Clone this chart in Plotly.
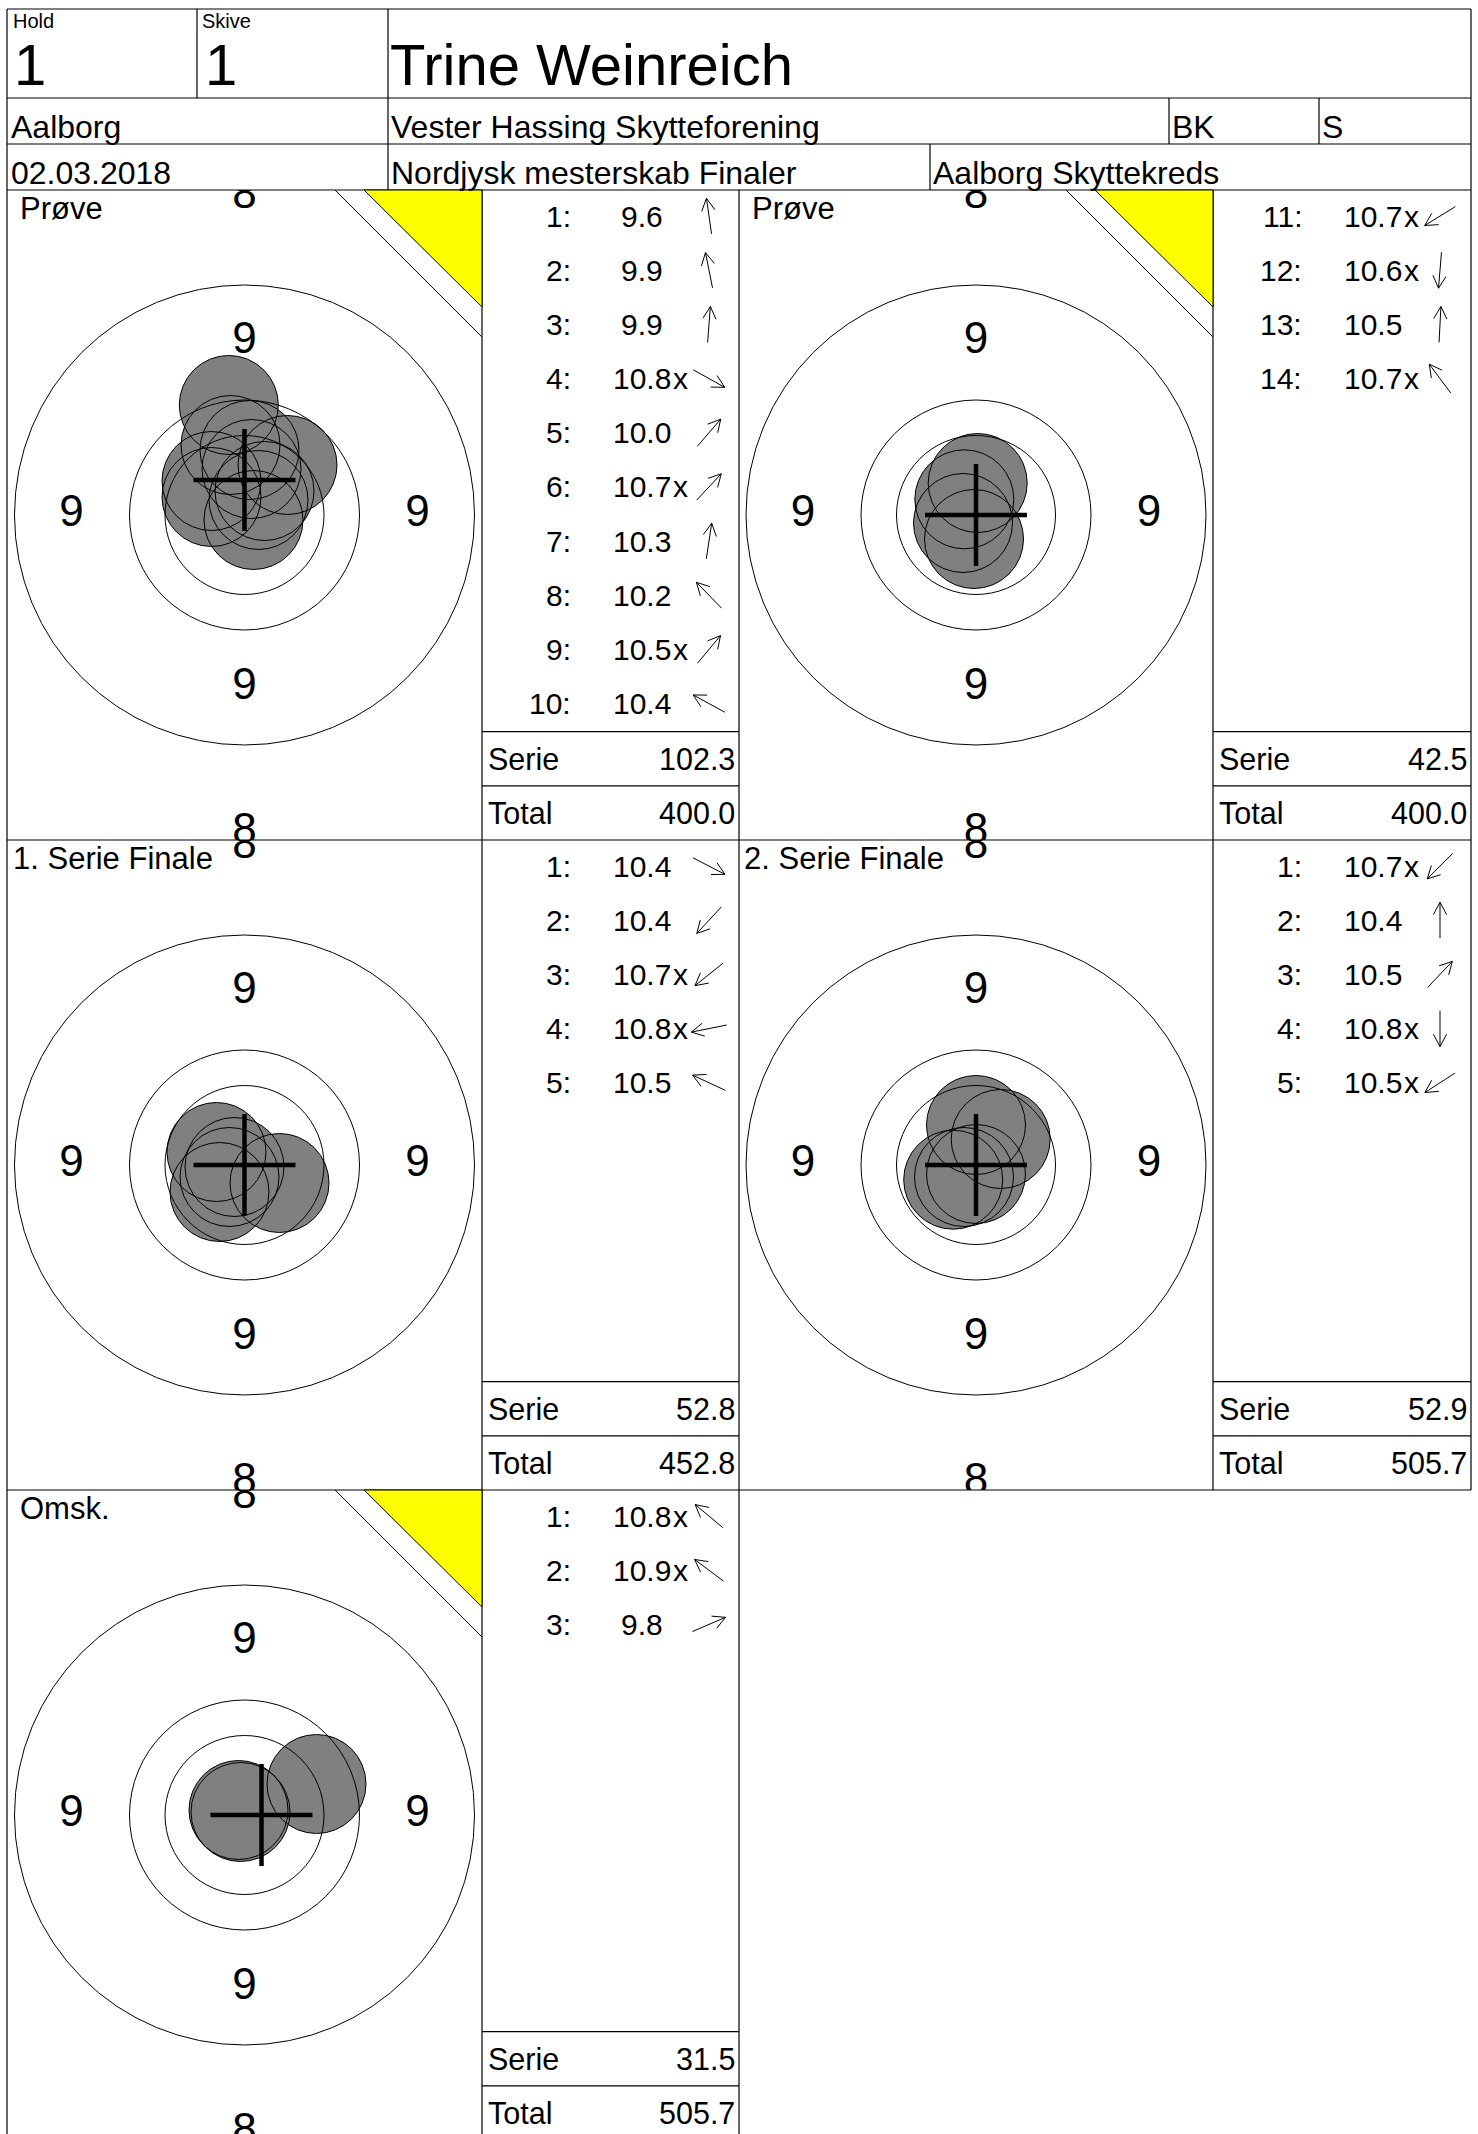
import math
import plotly.graph_objects as go

W, H = 1478, 2134
FONT = "Liberation Sans, Arial, Helvetica, sans-serif"

# ---------------- data ----------------
hold_label, skive_label = "Hold", "Skive"
hold_no = "1"
skive_no = "1"
shooter = "Trine Weinreich"
city = "Aalborg"
club = "Vester Hassing Skytteforening"
klasse = "BK"
gruppe = "S"
date = "02.03.2018"
competition = "Nordjysk mesterskab Finaler"
kreds = "Aalborg Skyttekreds"

panel_titles = ["Prøve", "Prøve", "1. Serie Finale", "2. Serie Finale", "Omsk."]
sighter_panel = [True, True, False, False, True]

p1_shot_no = [1, 2, 3, 4, 5, 6, 7, 8, 9, 10]
p1_scores = [9.6, 9.9, 9.9, 10.8, 10.0, 10.7, 10.3, 10.2, 10.5, 10.4]
p1_inner = [0, 0, 0, 1, 0, 1, 0, 0, 1, 0]
p1_x = [-15.7, -14, 5, 9, 43, 14, 7, -33, 20, -33]
p1_y = [110, 70, 65, -5, 50, 15, 46, 34, 24, 18]

p2_shot_no = [11, 12, 13, 14]
p2_scores = [10.7, 10.6, 10.5, 10.7]
p2_inner = [1, 1, 0, 1]
p2_x = [-13, -2, 1.7, -11.7]
p2_y = [-8, -24, 32, 15.7]

p3_shot_no = [1, 2, 3, 4, 5]
p3_scores = [10.4, 10.4, 10.7, 10.8, 10.5]
p3_inner = [0, 0, 1, 1, 0]
p3_x = [35, -25, -15, -10, -28]
p3_y = [-18, -27, -12, -2, 13]

p4_shot_no = [1, 2, 3, 4, 5]
p4_scores = [10.7, 10.4, 10.5, 10.8, 10.5]
p4_inner = [1, 0, 0, 1, 1]
p4_x = [-12, 0, 24.7, 0, -22.8]
p4_y = [-12, 40, 26, -9, -14.7]

p5_shot_no = [1, 2, 3]
p5_scores = [10.8, 10.9, 9.8]
p5_inner = [1, 1, 0]
p5_x = [-6, -4, 72]
p5_y = [5, 3, 31]

series_sum = [102.3, 42.5, 52.8, 52.9, 31.5]
running_total = [400.0, 400.0, 452.8, 505.7, 505.7]
group_x = [0, 0, 0, 0, 17]
group_y = [35, 0, 0, 0, 0]

ring_radii = [230, 115, 79.5]
ring9_label_r = 173
ring8_label_r = 318

# ---------------- geometry / style ----------------
SHOT_R = 49.5
CROSS_HALF = 51
panels = [(7, 190, 482, 840), (739, 190, 1213, 840), (7, 840, 482, 1490),
          (739, 840, 1213, 1490), (7, 1490, 482, 2140)]
lists = [(482, 190, 739, 840), (1213, 190, 1471, 840), (482, 840, 739, 1490),
         (1213, 840, 1471, 1490), (482, 1490, 739, 2140)]
title_dx = [11, 11, 4, 3, 11]
ROW_H = 650 / 12.0

shots = [
    (p1_shot_no, p1_scores, p1_inner, p1_x, p1_y),
    (p2_shot_no, p2_scores, p2_inner, p2_x, p2_y),
    (p3_shot_no, p3_scores, p3_inner, p3_x, p3_y),
    (p4_shot_no, p4_scores, p4_inner, p4_x, p4_y),
    (p5_shot_no, p5_scores, p5_inner, p5_x, p5_y),
]

fig = go.Figure()
layout = dict(width=W, height=H, margin=dict(l=0, r=0, t=0, b=0),
              paper_bgcolor="white", plot_bgcolor="rgba(0,0,0,0)", showlegend=False)
annotations = []
shapes = []

def hidden(ax):
    ax.update(visible=False, showgrid=False, zeroline=False, fixedrange=True)
    return ax

# page axis (pixel coordinates, y down)
layout["xaxis6"] = hidden(dict(domain=[0, 1], range=[0, W], anchor="y6"))
layout["yaxis6"] = hidden(dict(domain=[0, 1], range=[H, 0], anchor="x6"))

def ann(text, x, y, size, xanchor="left"):
    annotations.append(dict(text=text, x=x, y=y, xref="x6", yref="y6", xanchor=xanchor,
                            yanchor="middle", showarrow=False,
                            font=dict(size=size, family=FONT, color="black")))

def line(x0, y0, x1, y1, w=1.2):
    shapes.append(dict(type="line", x0=x0, y0=y0, x1=x1, y1=y1, xref="x6", yref="y6",
                       line=dict(color="black", width=w), layer="above"))

# ---- header ----
ann(hold_label, 11, 20.5, 20)
ann(skive_label, 200, 20.5, 20)
ann(hold_no, 12, 64.5, 58)
ann(skive_no, 203, 64.5, 58)
ann(shooter, 388, 64.5, 58)
ann(city, 9, 126.5, 32)
ann(club, 389, 126.5, 32)
ann(klasse, 1170, 126.5, 32)
ann(gruppe, 1320, 126.5, 32)
ann(date, 9, 173, 32)
ann(competition, 389, 173, 32)
ann(kreds, 931, 173, 32)

# frame lines
line(7, 9, 1471, 9)
line(7, 9, 7, H)
line(1471, 9, 1471, 1490)
for yy in (98, 144, 190, 840, 1490):
    line(7, yy, 1471, yy)
line(197, 9, 197, 98)
line(388, 9, 388, 190)
line(1169, 98, 1169, 144)
line(1319, 98, 1319, 144)
line(930, 144, 930, 190)
line(482, 190, 482, H)
line(739, 190, 739, H)
line(1213, 190, 1213, 1490)

arrow_x, arrow_y = [], []

for k, (px0, py0, px1, py1) in enumerate(panels):
    cx = (px0 + px1) / 2.0
    cy = py0 + 325
    yb = min(py1, H)
    xa, ya = "xaxis%d" % (k + 1), "yaxis%d" % (k + 1)
    xr, yr = "x%d" % (k + 1), "y%d" % (k + 1)
    layout[xa] = hidden(dict(domain=[px0 / W, px1 / W], range=[px0 - cx, px1 - cx], anchor=yr))
    layout[ya] = hidden(dict(domain=[1 - yb / H, 1 - py0 / H], range=[cy - yb, cy - py0], anchor=xr))

    nos, scs, inn, sx, sy = shots[k]

    # ring labels
    fig.add_trace(go.Scatter(x=[0, 0, ring9_label_r, -ring9_label_r, 0, 0],
                             y=[ring9_label_r, -ring9_label_r, 0, 0, ring8_label_r, -ring8_label_r],
                             mode="text", text=["9"] * 4 + ["8"] * 2, textposition="middle center",
                             textfont=dict(size=44, family=FONT, color="black"),
                             cliponaxis=True, xaxis=xr, yaxis=yr, hoverinfo="skip"))
    # shot fills then outlines
    fig.add_trace(go.Scatter(x=sx, y=sy, mode="markers", xaxis=xr, yaxis=yr, cliponaxis=True,
                             marker=dict(size=2 * SHOT_R, color="#808080", line=dict(width=0)),
                             hoverinfo="skip"))
    fig.add_trace(go.Scatter(x=sx, y=sy, mode="markers", xaxis=xr, yaxis=yr, cliponaxis=True,
                             marker=dict(size=2 * SHOT_R, color="rgba(0,0,0,0)",
                                         line=dict(width=1, color="black")),
                             hoverinfo="skip"))
    # group cross
    gx, gy = group_x[k], group_y[k]
    fig.add_trace(go.Scatter(x=[gx - CROSS_HALF, gx + CROSS_HALF, None, gx, gx],
                             y=[gy, gy, None, gy - CROSS_HALF, gy + CROSS_HALF],
                             mode="lines", line=dict(color="black", width=4.5),
                             xaxis=xr, yaxis=yr, cliponaxis=True, hoverinfo="skip"))
    # rings
    for r in ring_radii:
        shapes.append(dict(type="circle", xref=xr, yref=yr, x0=-r, x1=r, y0=-r, y1=r,
                           line=dict(color="black", width=1), layer="above"))

    # title
    ann(panel_titles[k], px0 + title_dx[k], py0 + 18, 31)

    # sighter triangles
    if sighter_panel[k]:
        line(px1 - 147, py0, px1, py0 + 147, 1)
        shapes.append(dict(type="path", xref="x6", yref="y6",
                           path="M %f,%f L %f,%f L %f,%f Z" % (px1 - 118, py0, px1, py0, px1, py0 + 117),
                           fillcolor="yellow", line=dict(color="black", width=1), layer="above"))

    # score list
    lx0, ly0, lx1, ly1 = lists[k]
    for i, (n, s, f, x, y) in enumerate(zip(nos, scs, inn, sx, sy)):
        yc = ly0 + ROW_H * (i + 0.5) - 1
        ann("%d:" % n, lx0 + 91, yc, 30, "right")
        ann("%.1f" % s, lx0 + 160, yc, 30, "center")
        if f:
            ann("x", lx0 + 189, yc, 30, "left")
        th = math.atan2(y, x)
        dx, dy = math.cos(th), -math.sin(th)
        acx, acy = lx0 + 227, yc
        L, hl, ha = 36, 14, math.radians(28)
        tx, ty = acx + dx * L / 2, acy + dy * L / 2
        bx, by = acx - dx * L / 2, acy - dy * L / 2
        arrow_x += [bx, tx, None]
        arrow_y += [by, ty, None]
        for sgn in (1, -1):
            c, s_ = math.cos(sgn * ha), math.sin(sgn * ha)
            rx, ry = -(dx * c - dy * s_), -(dx * s_ + dy * c)
            arrow_x += [tx + rx * hl, tx, None]
            arrow_y += [ty + ry * hl, ty, None]
    ys = ly0 + ROW_H * 10
    line(lx0, ys, lx1, ys)
    line(lx0, ys + ROW_H, lx1, ys + ROW_H)
    ann("Serie", lx0 + 4, ys + ROW_H / 2, 30.5)
    ann("%.1f" % series_sum[k], lx1 - 2, ys + ROW_H / 2, 30.5, "right")
    ann("Total", lx0 + 4, ys + ROW_H * 1.5, 30.5)
    ann("%.1f" % running_total[k], lx1 - 2, ys + ROW_H * 1.5, 30.5, "right")

fig.add_trace(go.Scatter(x=arrow_x, y=arrow_y, mode="lines", line=dict(color="black", width=1),
                         xaxis="x6", yaxis="y6", hoverinfo="skip"))

layout["annotations"] = annotations
layout["shapes"] = shapes
fig.update_layout(**layout)
fig.write_html("out.html", config={"displayModeBar": False},
               post_script="document.body.style.margin='0';")
